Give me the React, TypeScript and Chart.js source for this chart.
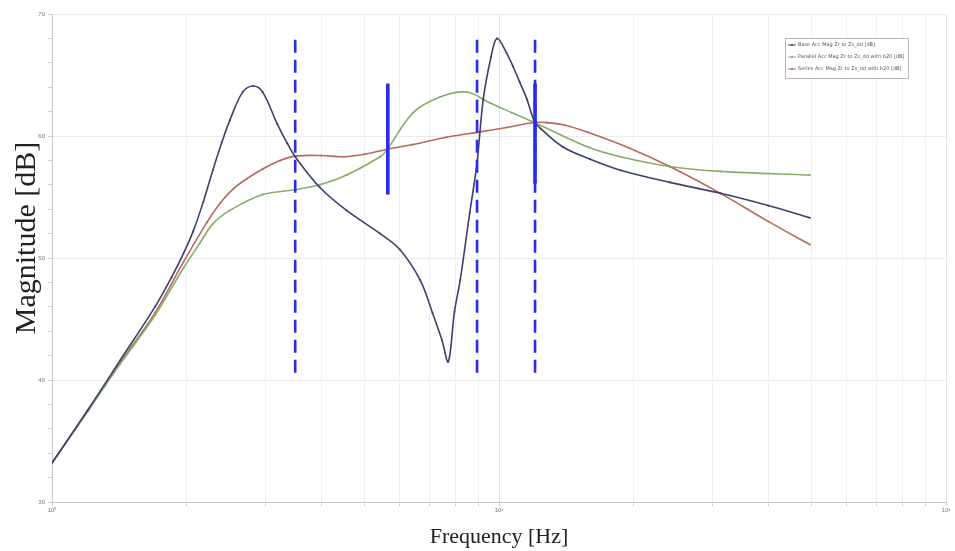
import React, { useEffect, useRef } from "react";
import { Chart, registerables } from "chart.js";

Chart.register(...registerables);

// ---- data ----
const baseFreq = [1, 1.2, 1.42, 1.7, 1.85, 1.97, 2.07, 2.18, 2.29, 2.4, 2.5, 2.67, 2.82, 2.96, 3.19, 3.36, 3.5, 3.97, 4.56, 5.42, 6.0, 6.66, 7.1, 7.45, 7.7, 7.95, 8.19, 8.6, 8.93, 9.22, 9.6, 9.9, 10.4, 10.75, 11.13, 11.55, 12.0, 12.4, 13.9, 16, 18.7, 24.1, 31.3, 40, 49.6];
const baseMag = [33.2, 37.5, 41.6, 46.0, 48.4, 50.4, 52.2, 54.6, 57.2, 59.5, 61.3, 63.6, 64.1, 63.6, 61.0, 59.4, 58.3, 55.8, 53.9, 52.0, 50.7, 48.2, 45.5, 43.3, 41.5, 45.6, 48.2, 53.7, 57.8, 63.0, 66.5, 68.0, 66.8, 65.7, 64.4, 63.0, 61.2, 60.6, 59.1, 58.1, 57.2, 56.2, 55.3, 54.3, 53.3];

const parallelFreq = [1, 1.2, 1.42, 1.7, 1.97, 2.14, 2.29, 2.5, 2.96, 3.5, 3.97, 4.56, 5.42, 5.6, 6.42, 7.38, 8.48, 9.55, 10.7, 12.0, 15.8, 18.7, 24.1, 31.3, 49.6];
const parallelMag = [33.2, 37.4, 41.3, 45.3, 49.2, 51.2, 52.8, 53.9, 55.2, 55.6, 56.0, 56.8, 58.3, 58.8, 61.9, 63.2, 63.6, 62.7, 61.9, 61.1, 59.1, 58.3, 57.5, 57.1, 56.8];

const seriesFreq = [1, 1.2, 1.42, 1.7, 1.97, 2.22, 2.38, 2.55, 2.73, 2.96, 3.24, 3.5, 4.0, 4.5, 5.0, 5.6, 6.42, 7.63, 8.93, 10.4, 12.0, 12.8, 14.0, 15.8, 19.6, 24.1, 31.3, 40, 49.6];
const seriesMag = [33.2, 37.4, 41.4, 45.5, 49.7, 52.9, 54.5, 55.7, 56.5, 57.3, 58.0, 58.35, 58.4, 58.3, 58.5, 58.9, 59.3, 59.9, 60.3, 60.7, 61.1, 61.1, 60.9, 60.3, 59.0, 57.5, 55.3, 53.0, 51.1];

const legendLabels = [
  "Base Acc Mag Zr to Zs_dd [dB]",
  "Parallel Acc Mag Zr to Zs_dd with b20 [dB]",
  "Series Acc Mag Zr to Zs_dd with b20 [dB]",
];

const dashedMarkerFreq = [3.5, 8.93, 12.04];
const dashedMarkerRange = [40.6, 68.0];
const solidMarkerFreq = [5.64, 12.04];
const solidMarkerLow = [55.2, 56.1];
const solidMarkerHigh = [64.3, 64.3];

const xTickValues = [1, 2, 3, 4, 5, 6, 7, 8, 9, 10, 20, 30, 40, 50, 60, 70, 80, 90, 100];
const xTickLabels: Record<number, string> = { 1: "10\u2070", 10: "10\u00B9", 100: "10\u00B2" };
const yMin = 30;
const yMax = 70;

const xTitle = "Frequency [Hz]";
const yTitle = "Magnitude [dB]";

const colors = ["#3d416e", "#88ad68", "#b8695f"];
const markerBlue = "#2a2cec";

function pts(f: number[], m: number[]) {
  return f.map((x, i) => ({ x, y: m[i] }));
}

const overlayPlugin = {
  id: "overlay",
  afterDraw(chart: any) {
    const ctx = chart.ctx as CanvasRenderingContext2D;
    const area = chart.chartArea;
    ctx.save();
    // axis titles
    ctx.fillStyle = "#222";
    ctx.font = "22px 'Liberation Serif', serif";
    ctx.textAlign = "center";
    ctx.textBaseline = "middle";
    ctx.fillText(xTitle, (area.left + area.right) / 2, 537);
    ctx.save();
    ctx.translate(27, 238);
    ctx.rotate(-Math.PI / 2);
    ctx.font = "30px 'Liberation Serif', serif";
    ctx.fillText(yTitle, 0, 0);
    ctx.restore();

    // legend box
    const bx = 785, by = 38, bw = 123, bh = 40;
    ctx.fillStyle = "#ffffff";
    ctx.fillRect(bx, by, bw, bh);
    ctx.strokeStyle = "#b8b8b8";
    ctx.lineWidth = 1;
    ctx.strokeRect(bx + 0.5, by + 0.5, bw, bh);
    ctx.font = "5px 'DejaVu Sans', sans-serif";
    ctx.textAlign = "left";
    legendLabels.forEach((t, i) => {
      const y = by + 7 + i * 12;
      ctx.strokeStyle = colors[i];
      ctx.lineWidth = 1;
      ctx.beginPath();
      ctx.moveTo(bx + 3, y);
      ctx.lineTo(bx + 11, y);
      ctx.stroke();
      ctx.fillStyle = colors[i];
      ctx.beginPath();
      ctx.arc(bx + 7, y, 1, 0, Math.PI * 2);
      ctx.fill();
      ctx.fillStyle = "#555";
      ctx.fillText(t, bx + 13, y);
    });
    ctx.restore();
  },
};

export default function App() {
  const ref = useRef<HTMLCanvasElement | null>(null);

  useEffect(() => {
    if (!ref.current) return;
    const markerSets: any[] = [];
    dashedMarkerFreq.forEach((f) => {
      markerSets.push({
        data: [
          { x: f, y: dashedMarkerRange[0] },
          { x: f, y: dashedMarkerRange[1] },
        ],
        borderColor: markerBlue,
        borderWidth: 2.6,
        borderDash: [13, 7],
        pointRadius: 0,
        tension: 0,
      });
    });
    solidMarkerFreq.forEach((f, i) => {
      markerSets.push({
        data: [
          { x: f, y: solidMarkerLow[i] },
          { x: f, y: solidMarkerHigh[i] },
        ],
        borderColor: markerBlue,
        borderWidth: 3.6,
        pointRadius: 0,
        tension: 0,
      });
    });
    const curve = (f: number[], m: number[], c: string) => ({
      data: pts(f, m),
      borderColor: c,
      backgroundColor: c,
      borderWidth: 1.6,
      pointRadius: 1,
      pointBorderWidth: 0,
      tension: 0.35,
    });

    const chart = new Chart(ref.current, {
      type: "line",
      data: {
        datasets: [
          ...markerSets,
          curve(baseFreq, baseMag, colors[0]),
          curve(parallelFreq, parallelMag, colors[1]),
          curve(seriesFreq, seriesMag, colors[2]),
        ],
      },
      options: {
        animation: false,
        responsive: false,
        devicePixelRatio: 1,
        layout: { padding: { left: 0, right: 9, top: 14, bottom: 0 } },
        plugins: { legend: { display: false }, tooltip: { enabled: false } },
        scales: {
          x: {
            type: "logarithmic",
            min: 1,
            max: 100,
            afterBuildTicks: (s: any) => {
              s.ticks = xTickValues.map((v) => ({ value: v }));
            },
            afterFit: (s: any) => {
              s.height = 49;
            },
            ticks: {
              autoSkip: false,
              maxRotation: 0,
              font: { size: 6 },
              color: "#777",
              padding: 1,
              callback: (v: any) => xTickLabels[Number(v)] ?? "",
            },
            grid: {
              color: (c: any) => ([1, 10, 100].includes(c.tick?.value) ? "#e2e2e2" : "#f1f1f1"),
              tickColor: "#cfcfcf",
              tickLength: 4,
            },
            border: { color: "#c8c8c8" },
          },
          y: {
            min: yMin,
            max: yMax,
            afterFit: (s: any) => {
              s.width = 52;
            },
            ticks: {
              stepSize: 2,
              autoSkip: false,
              font: { size: 6 },
              color: "#777",
              padding: 3,
              callback: (v: any) => (Number(v) % 10 === 0 ? String(v) : ""),
            },
            grid: {
              color: (c: any) => (c.tick && c.tick.value % 10 === 0 ? "#ececec" : "rgba(0,0,0,0)"),
              tickColor: "#cfcfcf",
              tickLength: 4,
            },
            border: { color: "#c8c8c8" },
          },
        },
      },
      plugins: [overlayPlugin],
    });
    return () => chart.destroy();
  }, []);

  return (
    <div style={{ position: "absolute", left: 0, top: 0, width: 955, height: 551, background: "#fff" }}>
      <canvas ref={ref} width={955} height={551} style={{ display: "block" }} />
    </div>
  );
}
